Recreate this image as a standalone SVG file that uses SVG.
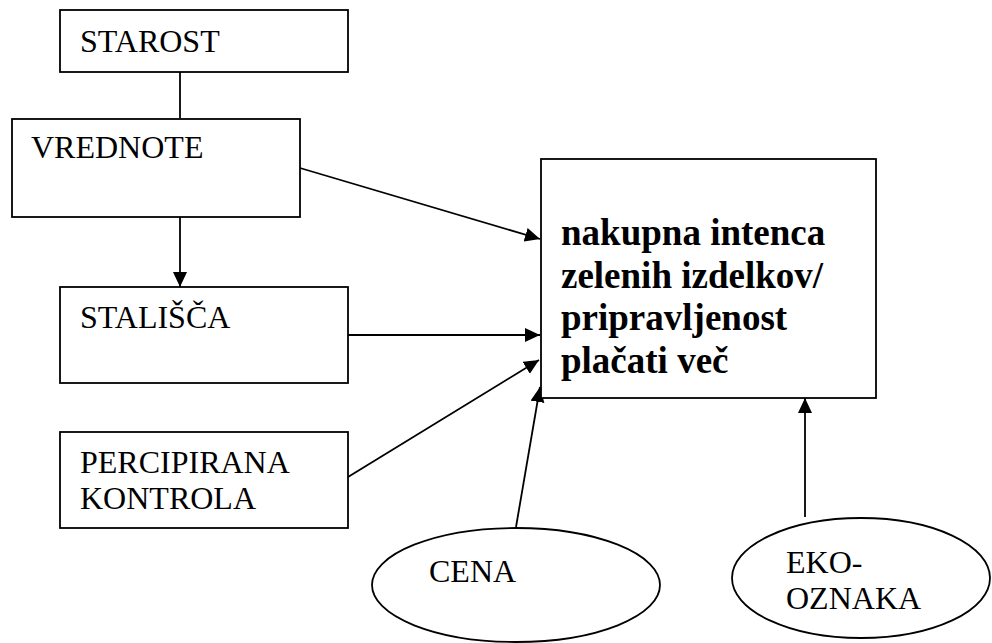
<svg xmlns="http://www.w3.org/2000/svg" width="992" height="643" viewBox="0 0 992 643">
  <defs>
    <!-- filled arrowhead, tip at the line end -->
    <marker id="arrow" markerUnits="userSpaceOnUse" markerWidth="16" markerHeight="15" refX="15" refY="7" orient="auto">
      <path d="M0,0 L15,7 L0,14 z" fill="#000"/>
    </marker>
  </defs>
  <rect width="992" height="643" fill="#fff"/>

  <g id="connectors" fill="none" stroke="#000" stroke-width="1.8">
    <line x1="180" y1="72" x2="180" y2="118"/>
    <line x1="180" y1="217" x2="180" y2="287" marker-end="url(#arrow)"/>
    <line x1="300" y1="168" x2="540" y2="239" marker-end="url(#arrow)"/>
    <line x1="348" y1="335" x2="540" y2="335" marker-end="url(#arrow)"/>
    <line x1="348" y1="477" x2="539" y2="360" marker-end="url(#arrow)"/>
    <line x1="516" y1="527" x2="540" y2="387" marker-end="url(#arrow)"/>
    <line x1="805" y1="517" x2="805" y2="398" marker-end="url(#arrow)"/>
  </g>

  <g id="starost">
    <rect x="60" y="10" width="288" height="62" fill="#fff" stroke="#000" stroke-width="1.8"/>
    <text x="80" y="52" font-family="Liberation Serif" font-size="32">STAROST</text>
  </g>

  <g id="vrednote">
    <rect x="12" y="119" width="288" height="98" fill="#fff" stroke="#000" stroke-width="1.8"/>
    <text x="31" y="158" font-family="Liberation Serif" font-size="32">VREDNOTE</text>
  </g>

  <g id="stalisca">
    <rect x="60" y="287" width="288" height="96" fill="#fff" stroke="#000" stroke-width="1.8"/>
    <text x="80" y="328" font-family="Liberation Serif" font-size="32">STALIŠČA</text>
  </g>

  <g id="percipirana-kontrola">
    <rect x="60" y="432" width="288" height="96" fill="#fff" stroke="#000" stroke-width="1.8"/>
    <text x="80" y="473" font-family="Liberation Serif" font-size="32">PERCIPIRANA</text>
    <text x="80" y="509" font-family="Liberation Serif" font-size="32">KONTROLA</text>
  </g>

  <g id="nakupna-intenca">
    <rect x="541" y="159" width="335" height="239" fill="#fff" stroke="#000" stroke-width="1.8"/>
    <text x="561" y="245" font-family="Liberation Serif" font-size="37" font-weight="bold">nakupna intenca</text>
    <text x="561" y="288" font-family="Liberation Serif" font-size="37" font-weight="bold">zelenih izdelkov/</text>
    <text x="561" y="330" font-family="Liberation Serif" font-size="37" font-weight="bold">pripravljenost</text>
    <text x="561" y="373" font-family="Liberation Serif" font-size="37" font-weight="bold">plačati več</text>
  </g>

  <g id="cena">
    <ellipse cx="516" cy="585" rx="144" ry="57" fill="#fff" stroke="#000" stroke-width="1.8"/>
    <text x="429" y="582" font-family="Liberation Serif" font-size="32">CENA</text>
  </g>

  <g id="eko-oznaka">
    <ellipse cx="861" cy="578" rx="129" ry="60" fill="#fff" stroke="#000" stroke-width="1.8"/>
    <text x="786" y="573" font-family="Liberation Serif" font-size="32">EKO-</text>
    <text x="786" y="609" font-family="Liberation Serif" font-size="32">OZNAKA</text>
  </g>
</svg>
